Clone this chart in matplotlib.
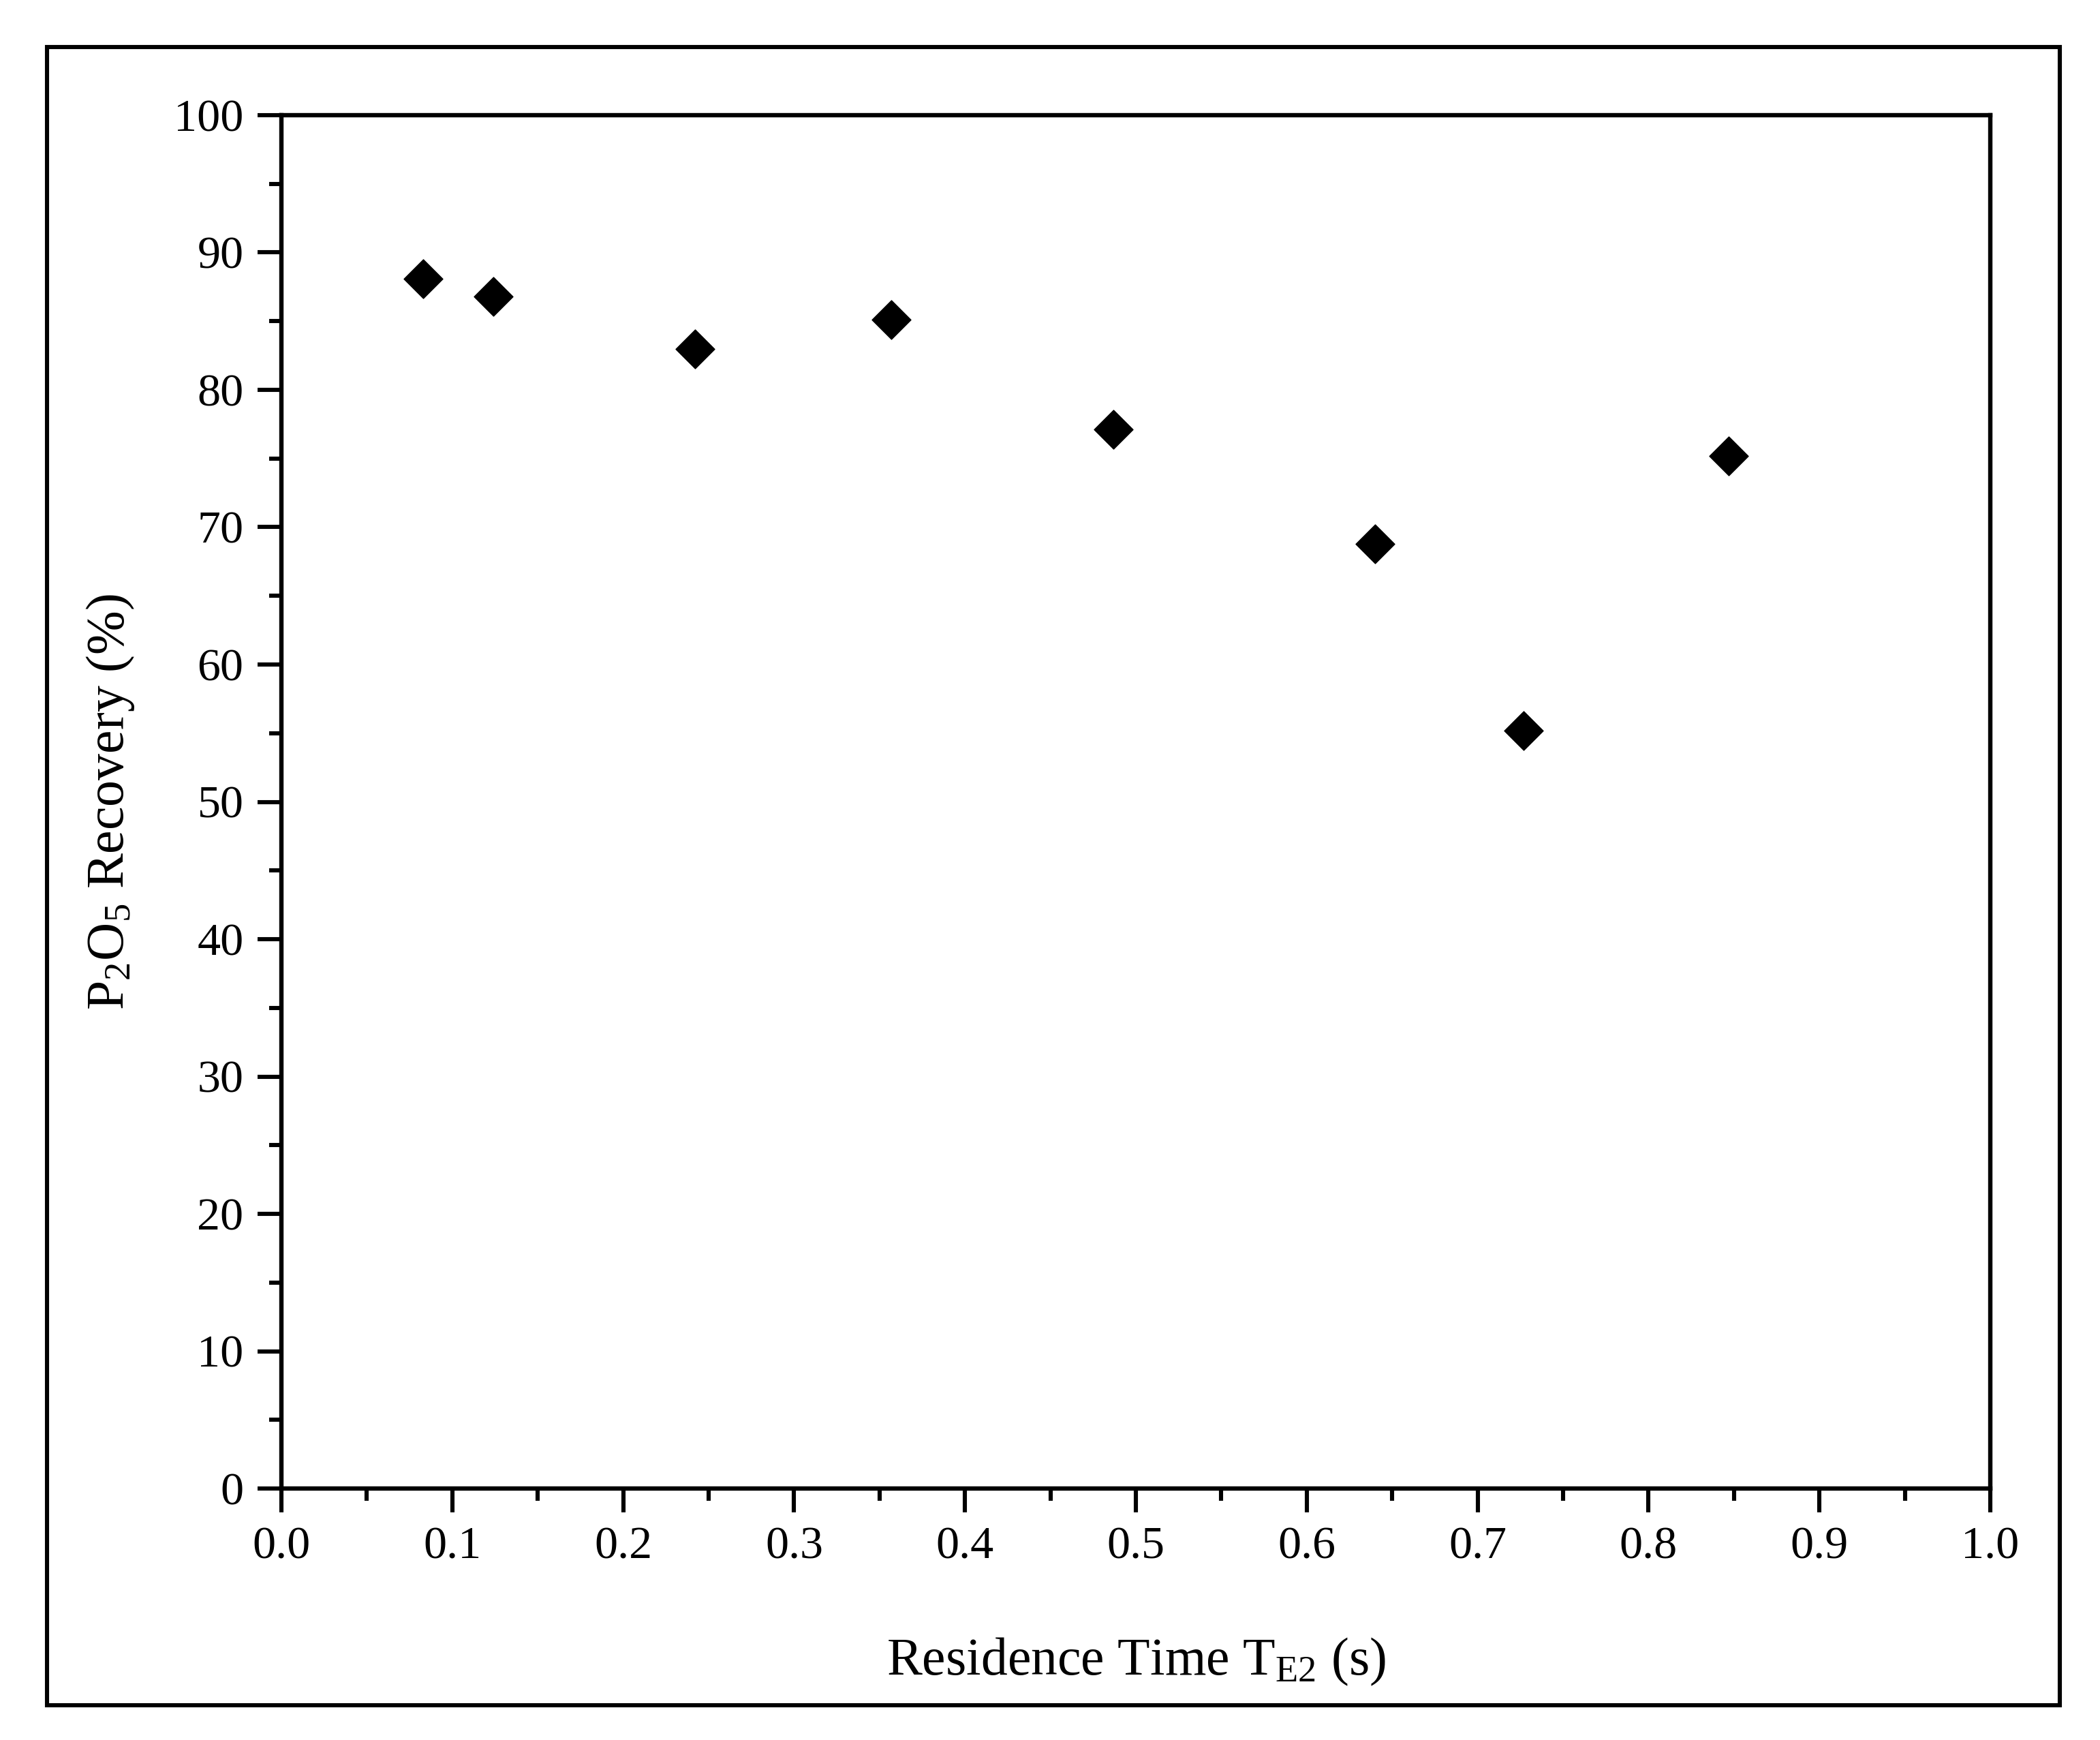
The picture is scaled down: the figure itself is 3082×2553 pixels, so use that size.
import matplotlib
matplotlib.use("Agg")
import matplotlib.pyplot as plt
from matplotlib.ticker import MultipleLocator, FormatStrFormatter
from matplotlib.patches import Rectangle

# Data
residence_time = [0.083, 0.124, 0.242, 0.357, 0.487, 0.640, 0.727, 0.847]
p2o5_recovery = [88.1, 86.8, 83.0, 85.1, 77.1, 68.8, 55.2, 75.2]

x_ticks = [0.0, 0.1, 0.2, 0.3, 0.4, 0.5, 0.6, 0.7, 0.8, 0.9, 1.0]
y_ticks = [0, 10, 20, 30, 40, 50, 60, 70, 80, 90, 100]

plt.rcParams['font.family'] = ['Liberation Serif', 'DejaVu Serif']
plt.rcParams['mathtext.fontset'] = 'custom'
plt.rcParams['mathtext.rm'] = 'Liberation Serif'
plt.rcParams['mathtext.it'] = 'Liberation Serif:italic'

W, H, DPI = 3082, 2553, 200
fig = plt.figure(figsize=(W / DPI, H / DPI), dpi=DPI)
fig.patch.set_facecolor('white')

# outer frame
fx0, fx1 = 69 / W, 3023 / W
fy0, fy1 = 1 - 2502 / H, 1 - 69 / H
fig.add_artist(Rectangle((fx0, fy0), fx1 - fx0, fy1 - fy0, transform=fig.transFigure,
                         fill=False, edgecolor='black', linewidth=2.2))

ax_l, ax_r = 413 / W, 2921 / W
ax_b, ax_t = 1 - 2184 / H, 1 - 169 / H
ax = fig.add_axes([ax_l, ax_b, ax_r - ax_l, ax_t - ax_b])

ax.scatter(residence_time, p2o5_recovery, marker='D', s=14.5 ** 2, color='black',
           edgecolors='black', linewidths=0.5, zorder=3)

ax.set_xlim(0, 1.0)
ax.set_ylim(0, 100)
ax.set_xticks(x_ticks)
ax.set_yticks(y_ticks)
ax.xaxis.set_major_formatter(FormatStrFormatter('%.1f'))
ax.xaxis.set_minor_locator(MultipleLocator(0.05))
ax.yaxis.set_minor_locator(MultipleLocator(5))

for sp in ax.spines.values():
    sp.set_linewidth(2.3)

ax.tick_params(axis='both', which='major', direction='out', length=12.5, width=2.2,
               labelsize=24.5, pad=7.5, colors='black')
ax.tick_params(axis='both', which='minor', direction='out', length=6.5, width=2.2)
ax.tick_params(top=False, right=False, which='both')

ax.set_xlabel(r'Residence Time T$_{\mathrm{E2}}$ (s)', fontsize=28, labelpad=36)
ax.set_ylabel(r'P$_{2}$O$_{5}$ Recovery (%)', fontsize=28, labelpad=20)

fig.savefig('out.png', dpi=DPI, facecolor='white')
